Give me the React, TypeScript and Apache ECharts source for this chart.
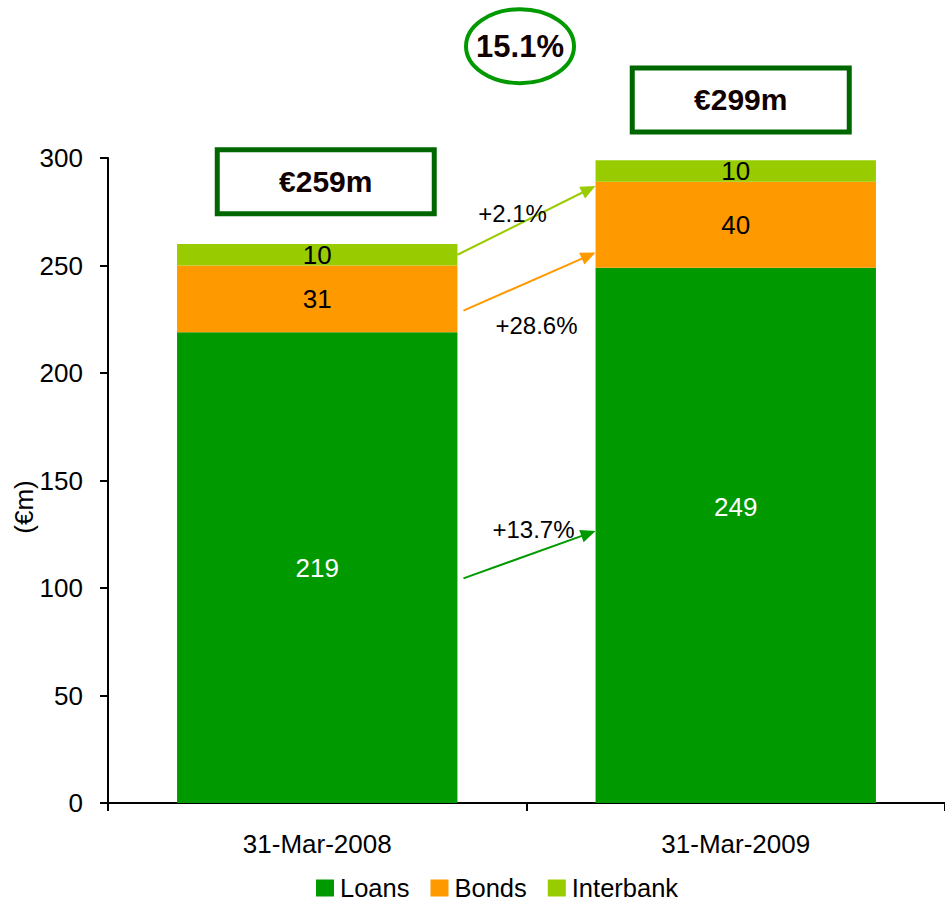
import React, { useEffect, useRef } from "react";
import * as echarts from "echarts";

const categories = ["31-Mar-2008", "31-Mar-2009"];
const loans = [219, 249];
const bonds = [31, 40];
const interbank = [10, 10];
const totalLabels = ["€259m", "€299m"];
const overallGrowth = "15.1%";
// growth labels: interbank, bonds, loans
const growthLabels = ["+2.1%", "+28.6%", "+13.7%"];
const yAxisName = "(€m)";
const yMin = 0;
const yMax = 300;
const yInterval = 50;

const FONT = "'Liberation Sans', Arial, sans-serif";
const C_LOANS = "#009900";
const C_BONDS = "#FF9900";
const C_INTER = "#99CC00";
const C_BOX = "#006600";

export default function App() {
  const ref = useRef<HTMLDivElement>(null);

  useEffect(() => {
    document.body.style.margin = "0";
    const chart = echarts.init(ref.current!, null, { renderer: "svg" });
    const labelBase = { show: true, position: "inside", fontSize: 26, fontFamily: FONT };
    const option: any = {
      animation: false,
      textStyle: { fontFamily: FONT },
      grid: { left: 108, right: 0, top: 158, bottom: 99, containLabel: false },
      legend: {
        left: 311,
        top: 870,
        itemWidth: 18,
        itemHeight: 17,
        itemGap: 21,
        icon: "rect",
        textStyle: { fontSize: 25.5, color: "#000", fontFamily: FONT, padding: [0, 0, 0, 1] },
        data: ["Loans", "Bonds", "Interbank"],
      },
      xAxis: {
        type: "category",
        data: categories,
        axisLine: { lineStyle: { color: "#000", width: 2 } },
        axisTick: { show: true, length: 8, lineStyle: { color: "#000", width: 2 } },
        axisLabel: { color: "#000", fontSize: 26, margin: 28, fontFamily: FONT },
      },
      yAxis: {
        type: "value",
        min: yMin,
        max: yMax,
        interval: yInterval,
        axisLine: { show: true, lineStyle: { color: "#000", width: 2 } },
        axisTick: { show: true, length: 8, lineStyle: { color: "#000", width: 2 } },
        axisLabel: { color: "#000", fontSize: 26, margin: 25, fontFamily: FONT },
        splitLine: { show: false },
      },
      series: [
        {
          name: "Loans",
          type: "bar",
          stack: "total",
          barWidth: "67%",
          itemStyle: { color: C_LOANS },
          label: { ...labelBase, color: "#fff" },
          data: loans.map((v, i) =>
            i === 1 ? { value: v, label: { offset: [0, -28] } } : v
          ),
        },
        {
          name: "Bonds",
          type: "bar",
          stack: "total",
          barWidth: "67%",
          itemStyle: { color: C_BONDS },
          label: { ...labelBase, color: "#000" },
          data: bonds,
        },
        {
          name: "Interbank",
          type: "bar",
          stack: "total",
          barWidth: "67%",
          itemStyle: { color: C_INTER },
          label: { ...labelBase, color: "#000" },
          data: interbank,
        },
      ],
    };
    chart.setOption(option);

    const px = (c: number, v: number) =>
      chart.convertToPixel({ gridIndex: 0 } as any, [c, v]) as number[];
    const x0 = px(0, 0)[0];
    const x1 = px(1, 0)[0];
    const half = (x1 - x0) * 0.335;
    const right0 = x0 + half;
    const left1 = x1 - half;
    const mid = (right0 + left1) / 2;
    const y = (v: number) => px(0, v)[1];

    const arrow = (ax: number, ay: number, bx: number, by: number, color: string) => {
      const dx = bx - ax;
      const dy = by - ay;
      const len = Math.sqrt(dx * dx + dy * dy);
      const ux = dx / len;
      const uy = dy / len;
      const hl = 15;
      const hw = 6.5;
      const baseX = bx - ux * hl;
      const baseY = by - uy * hl;
      return [
        {
          type: "line",
          shape: { x1: ax, y1: ay, x2: baseX + ux * 2, y2: baseY + uy * 2 },
          style: { stroke: color, lineWidth: 2 },
          z: 10,
        },
        {
          type: "polygon",
          shape: {
            points: [
              [bx, by],
              [baseX - uy * hw, baseY + ux * hw],
              [baseX + uy * hw, baseY - ux * hw],
            ],
          },
          style: { fill: color },
          z: 10,
        },
      ];
    };

    const txt = (
      x: number,
      yy: number,
      text: string,
      size: number,
      bold: boolean,
      color: string,
      rotation = 0
    ) => ({
      type: "text",
      x,
      y: yy,
      rotation,
      z: 11,
      style: {
        text,
        fill: color,
        fontSize: size,
        fontWeight: bold ? "bold" : "normal",
        fontFamily: FONT,
        align: "center",
        verticalAlign: "middle",
        textAlign: "center",
        textVerticalAlign: "middle",
      },
    });

    const boxW = 217;
    const boxH = 64;
    const box = (cx: number, cy: number) => ({
      type: "rect",
      shape: { x: cx - boxW / 2, y: cy - boxH / 2, width: boxW, height: boxH },
      style: { fill: "#fff", stroke: C_BOX, lineWidth: 5 },
      z: 10,
    });

    const b0 = [x0 + 8.5, y(289)];
    const b1 = [x1 + 5, y(327)];
    const ell = [mid - 6.5, y(352)];

    const graphic: any[] = [
      ...arrow(right0, y(255), left1, y(287), C_INTER),
      ...arrow(right0 + 6, y(229), left1, y(256), C_BONDS),
      ...arrow(right0 + 6, y(104.5), left1, y(126.5), C_LOANS),
      txt(mid - 14, y(274.4), growthLabels[0], 24, false, "#000"),
      txt(mid + 10, y(222), growthLabels[1], 24, false, "#000"),
      txt(mid + 7, y(127), growthLabels[2], 24, false, "#000"),
      box(b0[0], b0[1]),
      box(b1[0], b1[1]),
      txt(b0[0], b0[1], totalLabels[0], 30, true, "#110000"),
      txt(b1[0], b1[1], totalLabels[1], 30, true, "#110000"),
      {
        type: "ellipse",
        shape: { cx: ell[0], cy: ell[1], rx: 54, ry: 37 },
        style: { fill: "#fff", stroke: C_LOANS, lineWidth: 4 },
        z: 10,
      },
      txt(ell[0], ell[1], overallGrowth, 31, true, "#110000"),
      txt(23.5, 507, yAxisName, 26, false, "#000", Math.PI / 2),
    ];
    chart.setOption({ graphic });

    return () => chart.dispose();
  }, []);

  return <div ref={ref} style={{ width: 945, height: 902 }} />;
}
